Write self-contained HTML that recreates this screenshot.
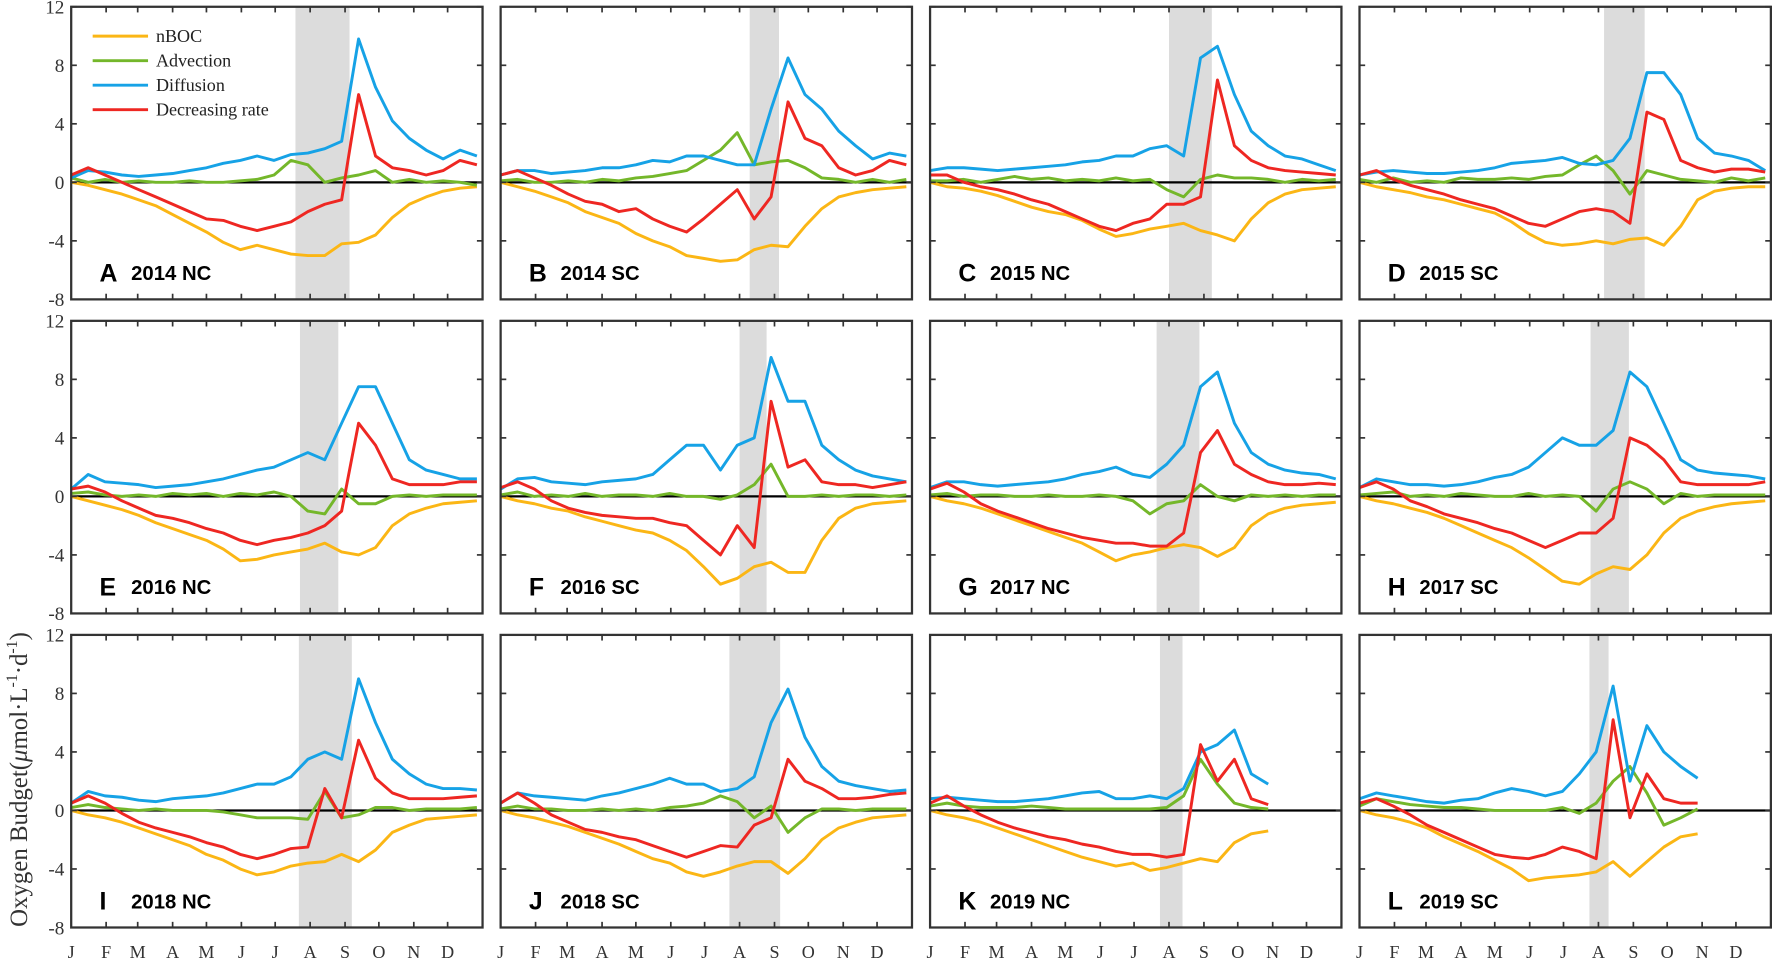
<!DOCTYPE html>
<html><head><meta charset="utf-8"><style>
html,body{margin:0;padding:0;background:#fff}
svg{display:block}
</style></head><body>
<svg id="chart" width="1772" height="958" viewBox="0 0 1568 848" preserveAspectRatio="none" xmlns="http://www.w3.org/2000/svg"></svg>
<script>
const days = [0,15,30,45,60,75,90,105,120,135,150,165,180,195,210,225,240,255,270,285,300,315,330,345,360];
const yTicks = [12,8,4,0,-4,-8];
const months = ["J","F","M","A","M","J","J","A","S","O","N","D"];
const monthStarts = [0,31,59,90,120,151,181,212,243,273,304,334];
const panelLetters = ["A","B","C","D","E","F","G","H","I","J","K","L"];
const panelTitles = ["2014 NC","2014 SC","2015 NC","2015 SC","2016 NC","2016 SC","2017 NC","2017 SC","2018 NC","2018 SC","2019 NC","2019 SC"];
const shadeStart = [199,221,212,217,203,212,201,205,202,203,204,204];
const shadeEnd = [247,247,250,253,237,236,239,239,249,248,224,221];
const nBOC = [
[0,-0.2,-0.5,-0.8,-1.2,-1.6,-2.2,-2.8,-3.4,-4.1,-4.6,-4.3,-4.6,-4.9,-5,-5,-4.2,-4.1,-3.6,-2.4,-1.5,-1,-0.6,-0.4,-0.3],
[0,-0.3,-0.6,-1,-1.4,-2,-2.4,-2.8,-3.5,-4,-4.4,-5,-5.2,-5.4,-5.3,-4.6,-4.3,-4.4,-3,-1.8,-1,-0.7,-0.5,-0.4,-0.3],
[0,-0.3,-0.4,-0.6,-0.9,-1.3,-1.7,-2,-2.2,-2.6,-3.2,-3.7,-3.5,-3.2,-3.0,-2.8,-3.3,-3.6,-4,-2.5,-1.4,-0.8,-0.5,-0.4,-0.3],
[0,-0.3,-0.5,-0.7,-1,-1.2,-1.5,-1.8,-2.1,-2.7,-3.5,-4.1,-4.3,-4.2,-4,-4.2,-3.9,-3.8,-4.3,-3,-1.2,-0.6,-0.4,-0.3,-0.3],
[0,-0.3,-0.6,-0.9,-1.3,-1.8,-2.2,-2.6,-3,-3.6,-4.4,-4.3,-4,-3.8,-3.6,-3.2,-3.8,-4,-3.5,-2,-1.2,-0.8,-0.5,-0.4,-0.3],
[0,-0.3,-0.5,-0.8,-1,-1.4,-1.7,-2,-2.3,-2.5,-3,-3.7,-4.8,-6,-5.6,-4.8,-4.5,-5.2,-5.2,-3,-1.5,-0.8,-0.5,-0.4,-0.3],
[0,-0.3,-0.5,-0.8,-1.2,-1.6,-2,-2.4,-2.8,-3.2,-3.8,-4.4,-4,-3.8,-3.5,-3.3,-3.5,-4.1,-3.5,-2,-1.2,-0.8,-0.6,-0.5,-0.4],
[0,-0.3,-0.5,-0.8,-1.1,-1.5,-2,-2.5,-3,-3.5,-4.2,-5,-5.8,-6,-5.3,-4.8,-5,-4,-2.5,-1.5,-1,-0.7,-0.5,-0.4,-0.3],
[0,-0.3,-0.5,-0.8,-1.2,-1.6,-2,-2.4,-3,-3.4,-4,-4.4,-4.2,-3.8,-3.6,-3.5,-3,-3.5,-2.7,-1.5,-1,-0.6,-0.5,-0.4,-0.3],
[0,-0.3,-0.5,-0.8,-1.1,-1.5,-1.9,-2.3,-2.8,-3.3,-3.6,-4.2,-4.5,-4.2,-3.8,-3.5,-3.5,-4.3,-3.3,-2,-1.2,-0.8,-0.5,-0.4,-0.3],
[0,-0.3,-0.5,-0.8,-1.2,-1.6,-2,-2.4,-2.8,-3.2,-3.5,-3.8,-3.6,-4.1,-3.9,-3.6,-3.3,-3.5,-2.2,-1.6,-1.4],
[0,-0.3,-0.5,-0.8,-1.2,-1.8,-2.3,-2.8,-3.4,-4,-4.8,-4.6,-4.5,-4.4,-4.2,-3.5,-4.5,-3.5,-2.5,-1.8,-1.6]
];
const advection = [
[0.3,0,0.2,0,0.1,0,0,0.1,0,0,0.1,0.2,0.5,1.5,1.2,0,0.3,0.5,0.8,0,0.2,0,0.1,0,-0.2],
[0.1,0.2,0,0,0.1,0,0.2,0.1,0.3,0.4,0.6,0.8,1.5,2.2,3.4,1.2,1.4,1.5,1.0,0.3,0.2,0,0.2,0,0.2],
[0.1,0.1,0.2,0,0.2,0.4,0.2,0.3,0.1,0.2,0.1,0.3,0.1,0.2,-0.5,-1,0.2,0.5,0.3,0.3,0.2,0,0.2,0.1,0.2],
[0.2,0,0.3,0,0.1,0,0.3,0.2,0.2,0.3,0.2,0.4,0.5,1.2,1.8,0.8,-0.8,0.8,0.5,0.2,0.1,0,0.3,0.1,0.3],
[0.2,0.3,0.1,0,0.1,0,0.2,0.1,0.2,0,0.2,0.1,0.3,0,-1,-1.2,0.5,-0.5,-0.5,0,0.1,0,0.1,0.1,0.1],
[0.1,0.3,0,0.1,0,0.2,0,0.1,0.1,0,0.2,0,0,-0.2,0.1,0.8,2.2,0,0,0.1,0,0.1,0.1,0,0.1],
[0.1,0.2,0,0.1,0.1,0,0,0.1,0,0,0.1,0,-0.3,-1.2,-0.5,-0.3,0.8,0,-0.3,0.1,0,0.1,0,0.1,0.1],
[0.1,0.2,0.3,0,0.1,0,0.2,0.1,0,0,0.2,0,0.1,0,-1,0.5,1,0.5,-0.5,0.2,0,0.1,0.1,0.1,0.1],
[0.2,0.4,0.2,0.1,0,0.1,0,0,0,-0.1,-0.3,-0.5,-0.5,-0.5,-0.6,1.3,-0.5,-0.3,0.2,0.2,0,0.1,0.1,0.1,0.2],
[0.1,0.3,0.1,0.1,0,0,0.1,0,0.1,0,0.2,0.3,0.5,1,0.6,-0.5,0.3,-1.5,-0.5,0.1,0.1,0,0.1,0.1,0.1],
[0.3,0.5,0.3,0.2,0.2,0.2,0.3,0.2,0.1,0.1,0.1,0.1,0.1,0.1,0.2,1,3.5,1.8,0.5,0.2,0.1],
[0.3,0.8,0.6,0.4,0.3,0.2,0.2,0.1,0,0,0,0,0.2,-0.2,0.5,2,3,1.2,-1,-0.5,0.1]
];
const diffusion = [
[0.3,0.8,0.7,0.5,0.4,0.5,0.6,0.8,1.0,1.3,1.5,1.8,1.5,1.9,2.0,2.3,2.8,9.8,6.5,4.2,3.0,2.2,1.6,2.2,1.8],
[0.5,0.8,0.8,0.6,0.7,0.8,1.0,1.0,1.2,1.5,1.4,1.8,1.8,1.5,1.2,1.2,5,8.5,6,5,3.5,2.5,1.6,2,1.8],
[0.8,1,1,0.9,0.8,0.9,1.0,1.1,1.2,1.4,1.5,1.8,1.8,2.3,2.5,1.8,8.5,9.3,6,3.5,2.5,1.8,1.6,1.2,0.8],
[0.5,0.7,0.8,0.7,0.6,0.6,0.7,0.8,1.0,1.3,1.4,1.5,1.7,1.3,1.2,1.5,3,7.5,7.5,6,3,2,1.8,1.5,0.8],
[0.5,1.5,1,0.9,0.8,0.6,0.7,0.8,1.0,1.2,1.5,1.8,2.0,2.5,3,2.5,5,7.5,7.5,5,2.5,1.8,1.5,1.2,1.2],
[0.5,1.2,1.3,1.0,0.9,0.8,1.0,1.1,1.2,1.5,2.5,3.5,3.5,1.8,3.5,4,9.5,6.5,6.5,3.5,2.5,1.8,1.4,1.2,1.0],
[0.6,1.0,1.0,0.8,0.7,0.8,0.9,1.0,1.2,1.5,1.7,2,1.5,1.3,2.2,3.5,7.5,8.5,5,3,2.2,1.8,1.6,1.5,1.2],
[0.6,1.2,1.0,0.8,0.8,0.7,0.8,1.0,1.3,1.5,2,3,4,3.5,3.5,4.5,8.5,7.5,5,2.5,1.8,1.6,1.5,1.4,1.2],
[0.5,1.3,1.0,0.9,0.7,0.6,0.8,0.9,1.0,1.2,1.5,1.8,1.8,2.3,3.5,4,3.5,9,6,3.5,2.5,1.8,1.5,1.5,1.4],
[0.5,1.2,1.0,0.9,0.8,0.7,1.0,1.2,1.5,1.8,2.2,1.8,1.8,1.3,1.5,2.3,6,8.3,5,3,2,1.7,1.5,1.3,1.4],
[0.8,0.9,0.8,0.7,0.6,0.6,0.7,0.8,1.0,1.2,1.3,0.8,0.8,1.0,0.8,1.5,4,4.5,5.5,2.5,1.8],
[0.8,1.2,1.0,0.8,0.6,0.5,0.7,0.8,1.2,1.5,1.3,1.0,1.3,2.5,4,8.5,2,5.8,4,3,2.2]
];
const decRate = [
[0.5,1,0.5,0,-0.5,-1,-1.5,-2,-2.5,-2.6,-3,-3.3,-3,-2.7,-2,-1.5,-1.2,6,1.8,1,0.8,0.5,0.8,1.5,1.2],
[0.5,0.8,0.3,-0.2,-0.8,-1.3,-1.5,-2,-1.8,-2.5,-3,-3.4,-2.5,-1.5,-0.5,-2.5,-1,5.5,3,2.5,1,0.5,0.8,1.5,1.2],
[0.5,0.5,0,-0.3,-0.5,-0.8,-1.2,-1.5,-2,-2.5,-3,-3.3,-2.8,-2.5,-1.5,-1.5,-1,7,2.5,1.5,1.0,0.8,0.7,0.6,0.5],
[0.5,0.8,0.2,-0.2,-0.5,-0.8,-1.2,-1.5,-1.8,-2.3,-2.8,-3,-2.5,-2,-1.8,-2,-2.8,4.8,4.3,1.5,1,0.7,0.9,0.9,0.7],
[0.5,0.7,0.3,-0.3,-0.8,-1.3,-1.5,-1.8,-2.2,-2.5,-3,-3.3,-3,-2.8,-2.5,-2,-1,5,3.5,1.2,0.8,0.8,0.8,1,1],
[0.6,1,0.5,-0.3,-0.8,-1.1,-1.3,-1.4,-1.5,-1.5,-1.8,-2,-3,-4,-2,-3.5,6.5,2,2.5,1,0.8,0.8,0.6,0.8,1],
[0.5,0.9,0.3,-0.5,-1,-1.4,-1.8,-2.2,-2.5,-2.8,-3,-3.2,-3.2,-3.4,-3.4,-2.5,3,4.5,2.2,1.5,1,0.8,0.8,0.9,0.8],
[0.6,1,0.5,-0.3,-0.7,-1.2,-1.5,-1.8,-2.2,-2.5,-3,-3.5,-3,-2.5,-2.5,-1.5,4,3.5,2.5,1,0.8,0.8,0.8,0.8,1],
[0.5,1,0.5,-0.2,-0.8,-1.2,-1.5,-1.8,-2.2,-2.5,-3,-3.3,-3,-2.6,-2.5,1.5,-0.5,4.8,2.2,1.2,0.8,0.8,0.8,0.9,1],
[0.5,1.2,0.5,-0.3,-0.8,-1.3,-1.5,-1.8,-2,-2.4,-2.8,-3.2,-2.8,-2.4,-2.5,-1,-0.5,3.5,2,1.5,0.8,0.8,0.9,1.1,1.2],
[0.5,1.0,0.3,-0.3,-0.8,-1.2,-1.5,-1.8,-2,-2.3,-2.5,-2.8,-3,-3,-3.2,-3,4.5,2,3.5,0.8,0.4],
[0.5,0.8,0.3,-0.3,-1,-1.5,-2,-2.5,-3,-3.2,-3.3,-3,-2.5,-2.8,-3.3,6.2,-0.5,2.5,0.8,0.5,0.5]
];
const seriesNames = ["nBOC","Advection","Diffusion","Decreasing rate"];
const seriesColors = ["#fbb615","#74b72a","#16a2e6","#ee2722"];

const NS = "http://www.w3.org/2000/svg";
const svg = document.getElementById("chart");
const colLeft = [63,443,823,1203], rowTop = [6,284,562], PW = 364, PH = 259;
function mk(tag, attrs, parent){ const e=document.createElementNS(NS,tag); for(const k in attrs) e.setAttribute(k,attrs[k]); (parent||svg).appendChild(e); return e; }

for (let p=0;p<12;p++){
  const c=p%4, r=Math.floor(p/4);
  const L=colLeft[c], T=rowTop[r];
  const xs = d => L + d*PW/365;
  const ys = v => T + (12 - v)/20*PH;
  const g = mk("g",{});
  
  
  const sh = mk("rect",{x:xs(shadeStart[p]),y:T,width:xs(shadeEnd[p])-xs(shadeStart[p]),height:PH,fill:"#dcdcdc"},g);
  
  
  const z = mk("line",{x1:L,x2:L+PW,y1:ys(0),y2:ys(0),stroke:"#000","stroke-width":2},g);
  
  
  const all=[nBOC,advection,diffusion,decRate];
  for(let s=0;s<4;s++){
    const vals=all[s][p];
    let d="";
    vals.forEach((v,i)=>{ d += (i?"L":"M") + xs(days[i]).toFixed(1) + "," + ys(v).toFixed(1); });
    const pl = mk("path",{d:d,fill:"none",stroke:seriesColors[s],"stroke-width":2.6,"stroke-linejoin":"round"},g);
    
    
  }
  const fr = mk("rect",{x:L,y:T,width:PW,height:PH,fill:"none",stroke:"#333","stroke-width":2},g);
  
  
  monthStarts.forEach((m,i)=>{
    if(i===0) return;
    mk("line",{x1:xs(m),x2:xs(m),y1:T+PH,y2:T+PH-5,stroke:"#333","stroke-width":1.5},g);
    mk("line",{x1:xs(m),x2:xs(m),y1:T,y2:T+5,stroke:"#333","stroke-width":1.5},g);
  });
  yTicks.forEach(v=>{
    mk("line",{x1:L,x2:L+5,y1:ys(v),y2:ys(v),stroke:"#333","stroke-width":1.5},g);
    mk("line",{x1:L+PW,x2:L+PW-5,y1:ys(v),y2:ys(v),stroke:"#333","stroke-width":1.5},g);
    if(c===0){
      const t=mk("text",{x:L-6,y:ys(v)+6,"text-anchor":"end","font-family":"Liberation Serif, serif","font-size":17,fill:"#333"},g);
      t.textContent=v;
      
      
    }
  });
  if(r===2){
    monthStarts.forEach((m,i)=>{
      const t=mk("text",{x:xs(m),y:848,"text-anchor":"middle","font-family":"Liberation Serif, serif","font-size":16,fill:"#333"},g);
      t.textContent=months[i];
      
      
    });
  }
  const lt=mk("text",{x:L+25,y:T+243,"font-family":"Liberation Sans, sans-serif","font-size":22,"font-weight":"bold",fill:"#000"},g);
  lt.textContent=panelLetters[p];
  
  
  const tt=mk("text",{x:L+53,y:T+242,"font-family":"Liberation Sans, sans-serif","font-size":18,"font-weight":"bold",fill:"#000"},g);
  tt.textContent=panelTitles[p];
  
  
}
const lg = mk("g",{});


seriesNames.forEach((n,i)=>{
  const y=32+i*21.7;
  const ln=mk("line",{x1:82,x2:131,y1:y,y2:y,stroke:seriesColors[i],"stroke-width":2.6},lg);
  
  
  const t=mk("text",{x:138,y:y+5,"font-family":"Liberation Serif, serif","font-size":16,fill:"#222"},lg);
  t.textContent=n;
  
  
});
const yt=mk("text",{x:0,y:0,transform:"translate(24,690) rotate(-90)","text-anchor":"middle","font-family":"Liberation Serif, serif","font-size":22,fill:"#333"});
yt.innerHTML='Oxygen Budget(<tspan font-style="italic">μ</tspan>mol·L<tspan dy="-9" font-size="14">-1</tspan><tspan dy="9">·d</tspan><tspan dy="-9" font-size="14">-1</tspan><tspan dy="9">)</tspan>';


</script>
</body></html>
